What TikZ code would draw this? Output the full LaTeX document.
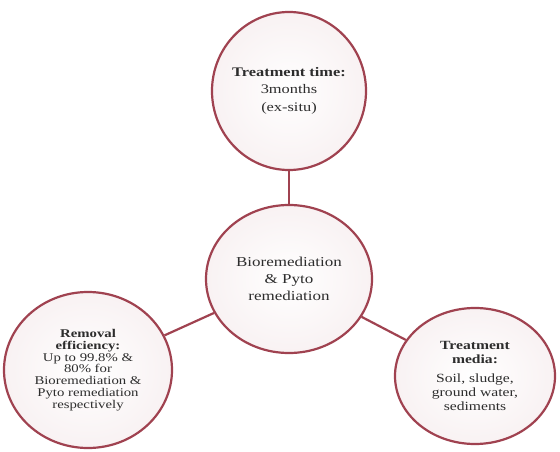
\documentclass[tikz,border=0pt]{standalone}
\usepackage{fontspec}
\setmainfont[FakeStretch=1.25]{Liberation Serif}
\usetikzlibrary{shapes.geometric}
\definecolor{rim}{RGB}{160,66,80}
\definecolor{ink}{RGB}{45,45,45}

\begin{document}
\begin{tikzpicture}[
x=1pt,y=1pt,
bubble/.style={
  ellipse,
  draw=rim,
  line width=2.2pt,
  inner color=white,
  outer color=rim!7,
  text=ink,
  align=center,
  inner sep=-6pt
  },
link/.style={
  draw=rim,
  line width=2.2pt
  }
]
\useasboundingbox (0,0) rectangle (560,-452);
% centre and the three satellites
\node[bubble, minimum width=166, minimum height=148,
  font=\fontsize{13.6}{17}\selectfont] (hub) at (289,-279)
  {Bioremediation\\\& Pyto\\remediation};
\node[bubble, minimum width=154, minimum height=158,
  font=\fontsize{13.1}{17}\selectfont] (time) at (289,-91)
  {\textbf{Treatment time:}\\3months\\[1pt](ex-situ)};
\node[bubble, minimum width=168, minimum height=156,
  font=\fontsize{11.8}{11.8}\selectfont] (eff) at (88,-370)
  {\textbf{Removal}\\\textbf{efficiency:}\\Up to 99.8\% \&\\80\% for\\Bioremediation \&\\Pyto remediation\\respectively};
\node[bubble, minimum width=160, minimum height=136,
  font=\fontsize{12.5}{14}\selectfont] (media) at (475,-376)
  {\textbf{Treatment}\\\textbf{media:}\\[5pt]Soil, sludge,\\ground water,\\sediments};
% spokes
\draw[link] (hub) -- (time);
\draw[link] (hub) -- (eff);
\draw[link] (hub) -- (media);
\end{tikzpicture}
\end{document}
